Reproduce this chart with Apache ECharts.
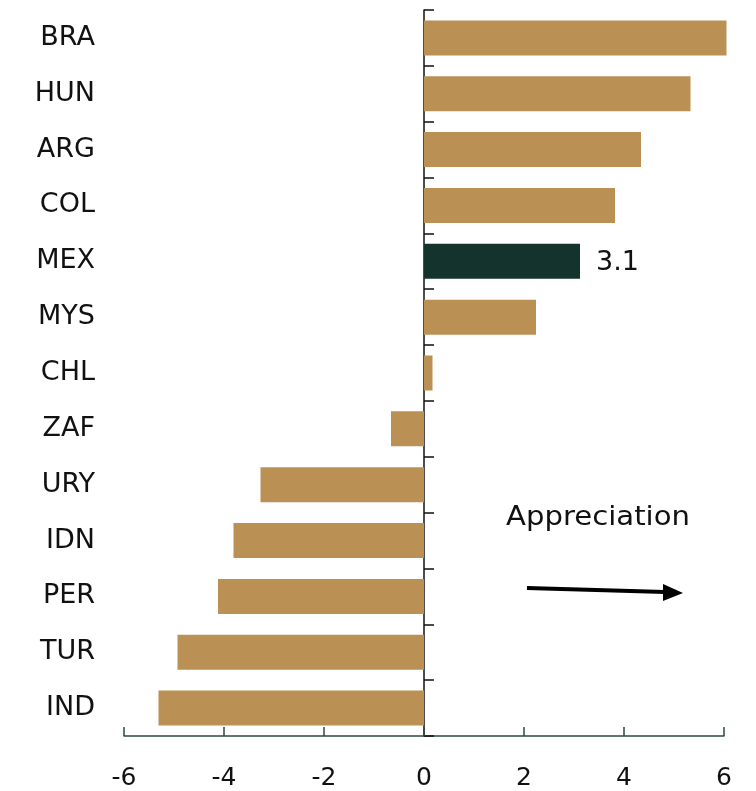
<!DOCTYPE html>
<html><head><meta charset="utf-8">
<script src="https://cdn.jsdelivr.net/npm/echarts@6/dist/echarts.min.js"></script>
<style>html,body{margin:0;padding:0;background:#fff}#c{width:756px;height:791px}</style>
</head><body><div id="c"></div>
<script>
const categories = ['BRA','HUN','ARG','COL','MEX','MYS','CHL','ZAF','URY','IDN','PER','TUR','IND'];
const values = [6.05, 5.33, 4.34, 3.82, 3.12, 2.24, 0.17, -0.66, -3.27, -3.81, -4.12, -4.93, -5.31];
const highlight = 'MEX';
const highlightLabel = '3.1';
const xTicks = [-6, -4, -2, 0, 2, 4, 6];

const gold = '#BA9055', dark = '#15332D';
const font = '"DejaVu Sans", sans-serif';
const chart = echarts.init(document.getElementById('c'));
chart.setOption({
  animation: false,
  grid: {left: 124, right: 32, top: 10, bottom: 55, containLabel: false},
  xAxis: {
    type: 'value', min: xTicks[0], max: xTicks[xTicks.length-1], interval: 2,
    splitLine: {show: false},
    axisLine: {show: true, onZero: false, lineStyle: {color: '#2E4A40', width: 1.5}},
    axisTick: {show: true, inside: true, length: 9, lineStyle: {color: '#2E4A40', width: 1.5}},
    axisLabel: {color: '#111', fontSize: 25, fontFamily: font, margin: 30}
  },
  yAxis: [{
    type: 'category', data: categories, inverse: true,
    axisLine: {show: false, onZero: false},
    axisTick: {show: false},
    axisLabel: {color: '#111', fontSize: 27, fontFamily: font, margin: 29}
  },{
    type: 'category', data: categories, inverse: true, position: 'left',
    axisLine: {show: true, onZero: true, lineStyle: {color: '#111', width: 1.5}},
    axisTick: {show: true, inside: true, length: 10, lineStyle: {color: '#111', width: 1.5}},
    axisLabel: {show: false}
  }],
  series: [{
    type: 'bar', yAxisIndex: 0, barWidth: 35, clip: false,
    data: values.map((v, i) => ({
      value: v,
      itemStyle: {color: categories[i] === highlight ? dark : gold},
      label: categories[i] === highlight ? {show: true, position: 'right', distance: 16, formatter: highlightLabel, color: '#111', fontSize: 27, fontFamily: font, offset: [0, 2]} : {show: false}
    }))
  }],
  graphic: [
    {type: 'text', x: 598, y: 518, scaleX: 1.12, style: {text: 'Appreciation', fontSize: 26, fontFamily: font, fill: '#111', align: 'center', verticalAlign: 'middle'}},
    {type: 'line', shape: {x1: 527, y1: 588, x2: 665, y2: 592}, style: {stroke: '#000', lineWidth: 4}},
    {type: 'polygon', shape: {points: [[683, 593], [663, 584], [663, 601]]}, style: {fill: '#000'}}
  ]
});
</script></body></html>
